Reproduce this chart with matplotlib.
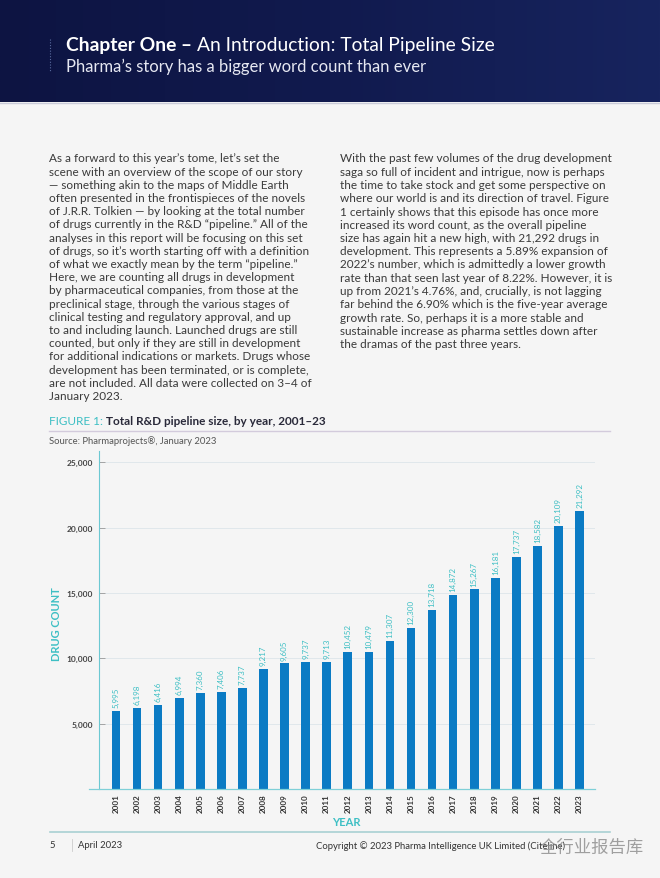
import numpy as np
import matplotlib.pyplot as plt
from matplotlib.colors import LinearSegmentedColormap

W, H = 660, 879

years = [str(y) for y in range(2001, 2024)]
drug_counts = [5995, 6198, 6416, 6994, 7360, 7406, 7737, 9217, 9605, 9737, 9713,
               10452, 10479, 11307, 12300, 13718, 14872, 15267, 16181, 17737,
               18582, 20109, 21292]
y_ticks = [5000, 10000, 15000, 20000, 25000]

left_col = [
    "As a forward to this year’s tome, let’s set the",
    "scene with an overview of the scope of our story",
    "— something akin to the maps of Middle Earth",
    "often presented in the frontispieces of the novels",
    "of J.R.R. Tolkien — by looking at the total number",
    "of drugs currently in the R&D “pipeline.” All of the",
    "analyses in this report will be focusing on this set",
    "of drugs, so it’s worth starting off with a definition",
    "of what we exactly mean by the term “pipeline.”",
    "Here, we are counting all drugs in development",
    "by pharmaceutical companies, from those at the",
    "preclinical stage, through the various stages of",
    "clinical testing and regulatory approval, and up",
    "to and including launch. Launched drugs are still",
    "counted, but only if they are still in development",
    "for additional indications or markets. Drugs whose",
    "development has been terminated, or is complete,",
    "are not included. All data were collected on 3–4 of",
    "January 2023.",
]
right_col = [
    "With the past few volumes of the drug development",
    "saga so full of incident and intrigue, now is perhaps",
    "the time to take stock and get some perspective on",
    "where our world is and its direction of travel. Figure",
    "1 certainly shows that this episode has once more",
    "increased its word count, as the overall pipeline",
    "size has again hit a new high, with 21,292 drugs in",
    "development. This represents a 5.89% expansion of",
    "2022’s number, which is admittedly a lower growth",
    "rate than that seen last year of 8.22%. However, it is",
    "up from 2021’s 4.76%, and, crucially, is not lagging",
    "far behind the 6.90% which is the five-year average",
    "growth rate. So, perhaps it is a more stable and",
    "sustainable increase as pharma settles down after",
    "the dramas of the past three years.",
]

plt.rcParams['font.family'] = ['Lato', 'DejaVu Sans']

BLUE = '#0b7bc4'
TEAL = '#3dbfc4'
DARK = '#333333'


def fx(x):
    return x / W


def fy(y):
    return 1 - y / H


fig = plt.figure(figsize=(W / 100, H / 100), dpi=100)
fig.patch.set_facecolor('#f5f5f5')

# page background + header band
bg = fig.add_axes([0, 0, 1, 1])
bg.set_xlim(0, W)
bg.set_ylim(H, 0)
bg.axis('off')
navy = LinearSegmentedColormap.from_list('navy', ['#0d1442', '#111a4e', '#17245e'])
grad = np.linspace(0, 1, 256).reshape(1, -1)
bg.imshow(grad, cmap=navy, extent=[0, W, 103, 0], aspect='auto', zorder=1)
bg.plot([0, W], [103.5, 103.5], color='#c9cbd8', lw=1, zorder=2)
bg.plot([50, 50], [40, 73], color='#5a6ca0', lw=0.8, ls=(0, (1, 1.5)), zorder=2)

renderer = fig.canvas.get_renderer()

t1 = fig.text(fx(66), fy(46), "Chapter One – ", color='white', fontsize=13.9,
              fontweight='bold', va='center')
bb = t1.get_window_extent(renderer)
fig.text(fx(66) + bb.width / W, fy(46), "An Introduction: Total Pipeline Size",
         color='white', fontsize=13.9, va='center')
fig.text(fx(66), fy(67), "Pharma’s story has a bigger word count than ever",
         color='#e6e8f2', fontsize=12, va='center')

# body text
for i, line in enumerate(left_col):
    fig.text(fx(49), fy(159 + i * 13.2), line, fontsize=8.5, color='#3a3a3a', va='center')
for i, line in enumerate(right_col):
    fig.text(fx(340), fy(159 + i * 13.25), line, fontsize=8.5, color='#3a3a3a', va='center')

# figure title
t2 = fig.text(fx(49), fy(422), "FIGURE 1: ", color=TEAL, fontsize=8.5, va='center')
bb = t2.get_window_extent(renderer)
fig.text(fx(49) + bb.width / W, fy(422), "Total R&D pipeline size, by year, 2001–23",
         color='#2a2a3a', fontsize=8.5, fontweight='bold', va='center')
bg.plot([49, 610], [432, 432], color='#d3cbdc', lw=1)
fig.text(fx(49), fy(441), "Source: Pharmaprojects®, January 2023", color='#555555',
         fontsize=6.8, va='center')

# chart
ax = fig.add_axes([fx(98.7), fy(790), (595 - 98.7) / W, (790 - 452) / H])
ax.set_facecolor('none')
x = np.arange(len(years))
ax.bar(x, drug_counts, width=0.41, color=BLUE, zorder=3)
for xi, v in zip(x, drug_counts):
    ax.text(xi, v + 300, f"{v:,}", rotation=90, ha='center', va='bottom',
            fontsize=5.8, color=TEAL)
ax.set_xlim(-0.82, len(years) - 1 + 0.73)
ax.set_ylim(0, 25860)
ax.set_yticks(y_ticks)
ax.set_yticklabels([f"{t:,}" for t in y_ticks], fontsize=6, color='#444444',
                   fontweight='bold')
ax.set_xticks(x)
ax.set_xticklabels(years, rotation=90, fontsize=5.8, color=DARK, fontweight='bold')
ax.tick_params(axis='y', direction='in', length=4, width=0.6, color='#999999', pad=4)
ax.tick_params(axis='x', length=0, pad=3)
ax.grid(axis='y', color='#dde5ea', lw=0.6, zorder=0)
for s in ['top', 'right', 'bottom']:
    ax.spines[s].set_visible(False)
ax.spines['left'].set_color('#6cc8d2')
ax.spines['left'].set_linewidth(0.8)
ax.axhline(0, xmin=-(98.7 - 89) / (595 - 98.7), xmax=1, color='#7fd0d8', lw=0.9,
           clip_on=False, zorder=4)

fig.text(fx(57), fy(624), "DRUG COUNT", rotation=90, color=TEAL, fontsize=8,
         fontweight='bold', ha='center', va='center')
fig.text(fx(346), fy(823), "YEAR", color=TEAL, fontsize=8, fontweight='bold',
         ha='center', va='center')

# footer
bg.plot([50, 610], [833, 833], color='#a9d0d3', lw=1.2)
fig.text(fx(49), fy(846), "5", fontsize=6.8, color=DARK, va='center')
bg.plot([72, 72], [840, 852], color='#cccccc', lw=0.6)
fig.text(fx(78), fy(846), "April 2023", fontsize=6.8, color=DARK, va='center')
fig.text(fx(316), fy(846), "Copyright © 2023 Pharma Intelligence UK Limited (Citeline)",
         fontsize=6.8, color=DARK, va='center')
fig.text(fx(540), fy(848), "全行业报告库", fontsize=12.5, color='#8a8a8a', alpha=0.8,
         va='center', family=['Noto Sans CJK SC', 'DejaVu Sans'])

fig.savefig('out.png', dpi=100, facecolor=fig.get_facecolor())
